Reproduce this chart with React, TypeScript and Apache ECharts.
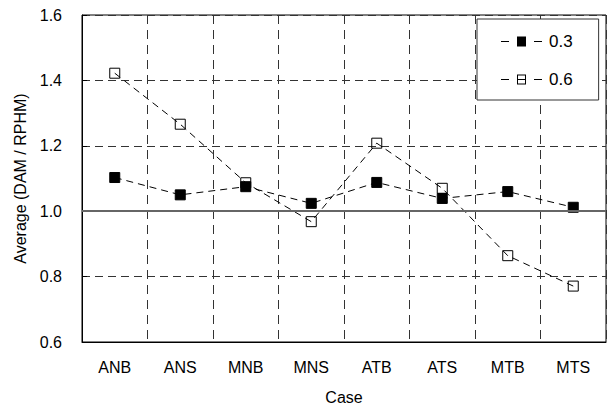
import React, { useEffect, useRef } from "react";
import * as echarts from "echarts";

const categories = ["ANB", "ANS", "MNB", "MNS", "ATB", "ATS", "MTB", "MTS"];
const series03 = [1.103, 1.05, 1.075, 1.024, 1.088, 1.039, 1.06, 1.012];
const series06 = [1.422, 1.266, 1.087, 0.968, 1.208, 1.07, 0.864, 0.771];
const yTicks = { min: 0.6, max: 1.6, interval: 0.2 };
const referenceValue = 1.0;

const FONT = "'Liberation Sans', Arial, sans-serif";

const ICON_FILLED =
  "path://M0 4.5h8v1h-8Z M33 4.5h8v1h-8Z M16 0h9v10h-9Z";
const ICON_OPEN =
  "path://M0 4.5h8v1h-8Z M33 4.5h8v1h-8Z M16 0h9v1h-9Z M16 9h9v1h-9Z M16 0h1v10h-1Z M24 0h1v10h-1Z M17 4.5h7v1h-7Z";

export default function App() {
  const ref = useRef<HTMLDivElement>(null);
  useEffect(() => {
    if (!ref.current) return;
    const chart = echarts.init(ref.current, undefined, { renderer: "svg" });
    chart.setOption({
      animation: false,
      backgroundColor: "#fff",
      textStyle: { fontFamily: FONT },
      grid: {
        left: 82,
        right: 6,
        top: 15,
        bottom: 63,
        show: true,
        borderColor: "#000",
        borderWidth: 1,
        containLabel: false,
        outerBoundsMode: "none",
      },
      legend: {
        orient: "vertical",
        left: 477,
        top: 19,
        padding: [14, 26, 12, 24],
        itemGap: 21,
        itemWidth: 41,
        itemHeight: 10,
        textStyle: { fontFamily: FONT, fontSize: 17, color: "#000", padding: [0, 0, 0, 2] },
        borderColor: "#333",
        borderWidth: 1,
        backgroundColor: "#fff",
        data: [
          { name: "0.3", icon: ICON_FILLED, itemStyle: { color: "#000", borderWidth: 0 } },
          { name: "0.6", icon: ICON_OPEN, itemStyle: { color: "#000", borderWidth: 0 } },
        ],
      },
      xAxis: {
        type: "category",
        data: categories,
        boundaryGap: true,
        name: "Case",
        nameLocation: "middle",
        nameGap: 47,
        nameTextStyle: { fontFamily: FONT, fontSize: 16, color: "#000" },
        axisLine: { show: true, lineStyle: { color: "#000", width: 1 } },
        axisTick: { show: false },
        axisLabel: { margin: 17, fontFamily: FONT, fontSize: 16, color: "#000" },
        splitLine: {
          show: true,
          lineStyle: { color: "#333", width: 1, type: [9, 6] },
        },
      },
      yAxis: {
        type: "value",
        min: yTicks.min,
        max: yTicks.max,
        interval: yTicks.interval,
        name: "Average (DAM / RPHM)",
        nameLocation: "middle",
        nameGap: 54,
        nameTextStyle: { fontFamily: FONT, fontSize: 16, color: "#000" },
        axisLine: { show: true, lineStyle: { color: "#000", width: 1 } },
        axisTick: { show: true, inside: true, length: 5, lineStyle: { color: "#000" } },
        axisLabel: {
          margin: 20,
          fontFamily: FONT,
          fontSize: 16,
          color: "#000",
          formatter: (v: number) => v.toFixed(1),
        },
        splitLine: {
          show: true,
          lineStyle: { color: "#333", width: 1, type: [8, 5] },
        },
      },
      series: [
        {
          name: "0.3",
          type: "line",
          data: series03,
          symbol: "rect",
          symbolSize: 10,
          itemStyle: { color: "#000", borderColor: "#000", borderWidth: 1 },
          lineStyle: { color: "#000", width: 1, type: [7, 5] },
          z: 3,
          markLine: {
            silent: true,
            symbol: "none",
            label: { show: false },
            lineStyle: { color: "#666", width: 2, type: "solid" },
            data: [{ yAxis: referenceValue }],
          },
        },
        {
          name: "0.6",
          type: "line",
          data: series06,
          symbol: "rect",
          symbolSize: 10,
          itemStyle: { color: "rgba(0,0,0,0)", borderColor: "#000", borderWidth: 1 },
          lineStyle: { color: "#000", width: 1, type: [7, 5] },
          z: 4,
        },
      ],
    });
    return () => chart.dispose();
  }, []);
  return (
    <div
      ref={ref}
      style={{ position: "fixed", left: 0, top: 0, width: 612, height: 405 }}
    />
  );
}
